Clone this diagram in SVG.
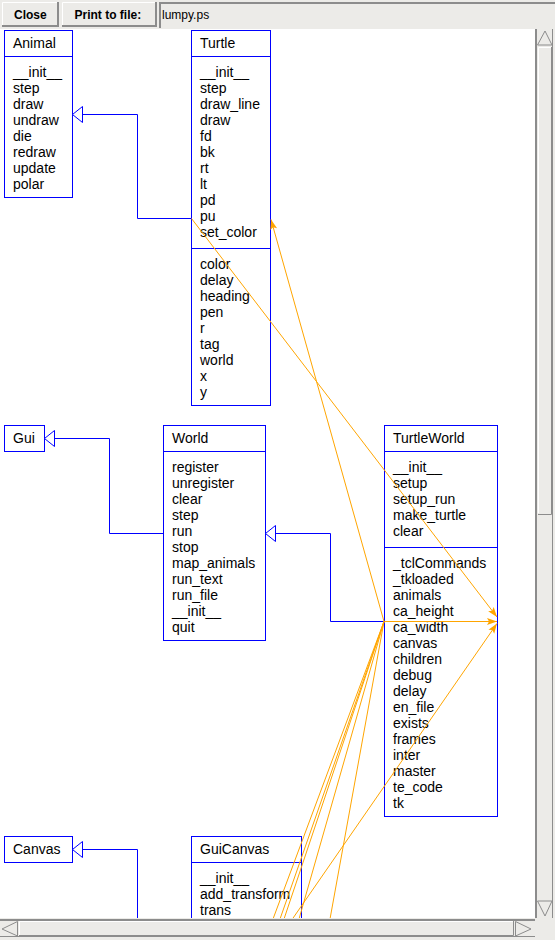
<svg xmlns="http://www.w3.org/2000/svg" width="555" height="940" viewBox="0 0 555 940">
<style>
.bg{fill:#ecebe8}
.box{fill:#fff;stroke:#0000ff;stroke-width:1}
.sep{stroke:#0000ff;stroke-width:1}
.t{font-family:"Liberation Sans",Arial,Helvetica,sans-serif;font-size:14px;fill:#000}
.btn{font-family:"Liberation Sans",Arial,Helvetica,sans-serif;font-size:12px;font-weight:bold;fill:#000}
.ent{font-family:"Liberation Sans",Arial,Helvetica,sans-serif;font-size:12px;fill:#000}
.inh{fill:none;stroke:#0000ff;stroke-width:1}
.tri{fill:#fff;stroke:#0000ff;stroke-width:1}
.has{fill:none;stroke:#ffa500;stroke-width:1}
.dk{stroke:#8c8c8c;fill:none}
.lt{stroke:#ffffff;fill:none}
</style>
<defs>
<marker id="ah" markerUnits="userSpaceOnUse" viewBox="-11 -4 12 8" refX="0" refY="0" markerWidth="12" markerHeight="8" orient="auto">
<path d="M0,0 L-10,-3.5 L-8,0 L-10,3.5 Z" fill="#ffa500"/>
</marker>
<clipPath id="cv"><rect x="0" y="29" width="535" height="889"/></clipPath>
</defs>

<g id="toolbar">
<rect class="bg" x="0" y="0" width="555" height="30"/>
<g id="btn-close">
<rect class="bg" x="2" y="2" width="57" height="25"/>
<path class="lt" d="M2.5,26 V2.5 H58"/>
<path class="dk" stroke-width="2" d="M58,2 V26 H2"/>
<text class="btn" x="14" y="18.5">Close</text>
</g>
<g id="btn-print">
<rect class="bg" x="62" y="2" width="95" height="25"/>
<path class="lt" d="M62.5,26 V2.5 H156"/>
<path class="dk" stroke-width="2" d="M156,2 V26 H62"/>
<text class="btn" x="74.5" y="18.5">Print to file:</text>
</g>
<g id="entry">
<rect class="bg" x="159" y="2" width="396" height="26"/>
<path class="dk" stroke-width="2" d="M160,28 V3 H555"/>
<text class="ent" x="162" y="18.5">lumpy.ps</text>
</g>
</g>

<rect x="0" y="29" width="535" height="890" fill="#ffffff"/>

<g clip-path="url(#cv)">
<g id="Animal">
<rect class="box" x="4.5" y="30.5" width="68" height="167"/>
<line class="sep" x1="4.5" y1="56.5" x2="72.5" y2="56.5"/>
<text class="t" x="13" y="48">Animal</text>
<text class="t"><tspan x="13" y="77">__init__</tspan><tspan x="13" y="93">step</tspan><tspan x="13" y="109">draw</tspan><tspan x="13" y="125">undraw</tspan><tspan x="13" y="141">die</tspan><tspan x="13" y="157">redraw</tspan><tspan x="13" y="173">update</tspan><tspan x="13" y="189">polar</tspan></text>
</g>

<g id="Turtle">
<rect class="box" x="191.5" y="30.5" width="79" height="375"/>
<line class="sep" x1="191.5" y1="56.5" x2="270.5" y2="56.5"/>
<line class="sep" x1="191.5" y1="248.5" x2="270.5" y2="248.5"/>
<text class="t" x="200" y="48">Turtle</text>
<text class="t"><tspan x="200" y="77">__init__</tspan><tspan x="200" y="93">step</tspan><tspan x="200" y="109">draw_line</tspan><tspan x="200" y="125">draw</tspan><tspan x="200" y="141">fd</tspan><tspan x="200" y="157">bk</tspan><tspan x="200" y="173">rt</tspan><tspan x="200" y="189">lt</tspan><tspan x="200" y="205">pd</tspan><tspan x="200" y="221">pu</tspan><tspan x="200" y="237">set_color</tspan></text>
<text class="t"><tspan x="200" y="269">color</tspan><tspan x="200" y="285">delay</tspan><tspan x="200" y="301">heading</tspan><tspan x="200" y="317">pen</tspan><tspan x="200" y="333">r</tspan><tspan x="200" y="349">tag</tspan><tspan x="200" y="365">world</tspan><tspan x="200" y="381">x</tspan><tspan x="200" y="397">y</tspan></text>
</g>

<g id="Gui">
<rect class="box" x="4.5" y="425.5" width="40" height="26"/>
<text class="t" x="13" y="443">Gui</text>
</g>

<g id="World">
<rect class="box" x="163.5" y="425.5" width="102" height="215"/>
<line class="sep" x1="163.5" y1="451.5" x2="265.5" y2="451.5"/>
<text class="t" x="172" y="443">World</text>
<text class="t"><tspan x="172" y="472">register</tspan><tspan x="172" y="488">unregister</tspan><tspan x="172" y="504">clear</tspan><tspan x="172" y="520">step</tspan><tspan x="172" y="536">run</tspan><tspan x="172" y="552">stop</tspan><tspan x="172" y="568">map_animals</tspan><tspan x="172" y="584">run_text</tspan><tspan x="172" y="600">run_file</tspan><tspan x="172" y="616">__init__</tspan><tspan x="172" y="632">quit</tspan></text>
</g>

<g id="TurtleWorld">
<rect class="box" x="384.5" y="425.5" width="113" height="391"/>
<line class="sep" x1="384.5" y1="451.5" x2="497.5" y2="451.5"/>
<line class="sep" x1="384.5" y1="547.5" x2="497.5" y2="547.5"/>
<text class="t" x="393" y="443">TurtleWorld</text>
<text class="t"><tspan x="393" y="472">__init__</tspan><tspan x="393" y="488">setup</tspan><tspan x="393" y="504">setup_run</tspan><tspan x="393" y="520">make_turtle</tspan><tspan x="393" y="536">clear</tspan></text>
<text class="t"><tspan x="393" y="568">_tclCommands</tspan><tspan x="393" y="584">_tkloaded</tspan><tspan x="393" y="600">animals</tspan><tspan x="393" y="616">ca_height</tspan><tspan x="393" y="632">ca_width</tspan><tspan x="393" y="648">canvas</tspan><tspan x="393" y="664">children</tspan><tspan x="393" y="680">debug</tspan><tspan x="393" y="696">delay</tspan><tspan x="393" y="712">en_file</tspan><tspan x="393" y="728">exists</tspan><tspan x="393" y="744">frames</tspan><tspan x="393" y="760">inter</tspan><tspan x="393" y="776">master</tspan><tspan x="393" y="792">te_code</tspan><tspan x="393" y="808">tk</tspan></text>
</g>

<g id="Canvas">
<rect class="box" x="4.5" y="836.5" width="68" height="26"/>
<text class="t" x="13" y="854">Canvas</text>
</g>

<g id="GuiCanvas">
<rect class="box" x="191.5" y="836.5" width="110" height="120"/>
<line class="sep" x1="191.5" y1="862.5" x2="301.5" y2="862.5"/>
<text class="t" x="200" y="854">GuiCanvas</text>
<text class="t"><tspan x="200" y="883">__init__</tspan><tspan x="200" y="899">add_transform</tspan><tspan x="200" y="915">trans</tspan></text>
</g>

<g id="connectors">
<path class="inh" d="M82.5,114.5 H137.5 V218.5 H191.5"/>
<polygon class="tri" points="72.5,114.5 82.5,106.5 82.5,122.5"/>
<path class="inh" d="M54.5,438.5 H109.5 V533.5 H163.5"/>
<polygon class="tri" points="44.5,438.5 54.5,430.5 54.5,446.5"/>
<path class="inh" d="M275.5,533.5 H330.5 V621.5 H384.5"/>
<polygon class="tri" points="265.5,533.5 275.5,525.5 275.5,541.5"/>
<path class="inh" d="M82.5,849.5 H137.5 V925"/>
<polygon class="tri" points="72.5,849.5 82.5,841.5 82.5,857.5"/>

<line class="has" x1="384" y1="621.5" x2="271" y2="219.5" marker-end="url(#ah)"/>
<line class="has" x1="191.5" y1="218.5" x2="497" y2="617" marker-end="url(#ah)"/>
<line class="has" x1="384.5" y1="621.5" x2="497" y2="621.5" marker-end="url(#ah)"/>
<line class="has" x1="292.4" y1="919" x2="497" y2="623.5" marker-end="url(#ah)"/>
<line class="has" x1="384" y1="621.5" x2="273" y2="919"/>
<line class="has" x1="384" y1="621.5" x2="280" y2="919"/>
<line class="has" x1="384" y1="621.5" x2="284" y2="919"/>
<line class="has" x1="384" y1="621.5" x2="299" y2="919"/>
<line class="has" x1="384" y1="621.5" x2="330" y2="919"/>
</g>
</g>

<g id="vscroll">
<rect class="bg" x="535" y="29" width="20" height="890"/>
<line class="dk" stroke-width="2" x1="536" y1="29" x2="536" y2="918"/>
<line class="dk" x1="552.5" y1="29" x2="552.5" y2="918"/>
<polygon points="545,31 537.5,45 552,45" fill="#ecebe8" stroke="#8c8c8c"/>
<rect class="bg" x="538" y="47" width="14" height="467"/>
<path class="lt" d="M538.5,513 V47.5 H551"/>
<path class="dk" d="M551.5,47 V514.5 H538"/>
<polygon points="537.5,901 552,901 545,916" fill="#ecebe8" stroke="#8c8c8c"/>
</g>

<g id="hscroll">
<rect class="bg" x="0" y="918" width="555" height="22"/>
<line class="dk" stroke-width="2" x1="0" y1="920" x2="535" y2="920"/>
<line class="dk" x1="0" y1="936.5" x2="535" y2="936.5"/>
<polygon points="2,929 17.5,921.5 17.5,936" fill="#ecebe8" stroke="#8c8c8c"/>
<rect class="bg" x="19" y="921" width="495" height="15"/>
<path class="lt" d="M19.5,935 V921.5 H513"/>
<path class="dk" d="M513.5,921 V935.5 H19"/>
<polygon points="515.5,921.5 515.5,936 531,929" fill="#ecebe8" stroke="#8c8c8c"/>
</g>
</svg>
